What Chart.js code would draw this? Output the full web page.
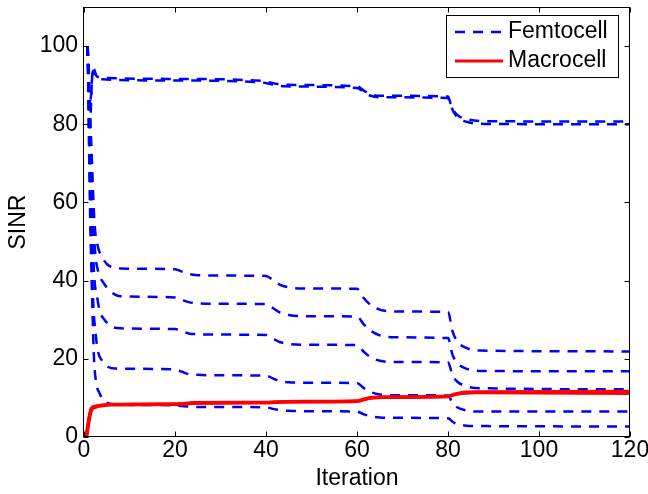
<!DOCTYPE html>
<html><head><meta charset="utf-8">
<script src="https://cdn.jsdelivr.net/npm/chart.js@4.4.1/dist/chart.umd.min.js"></script>
<style>html,body{margin:0;padding:0;background:#fff;}canvas{display:block;}</style>
</head><body>
<canvas id="c" width="648" height="494"></canvas>
<script>
const xTicks = [0, 20, 40, 60, 80, 100, 120];
const yTicks = [0, 20, 40, 60, 80, 100];
const seriesNames = ['Femtocell', 'Macrocell'];
const xTitle = 'Iteration';
const yTitle = 'SINR';

// Femtocell SINR curves (iteration, SINR)
const femto1 = [[0.8,100],[1.4,86],[2,94.5],[2.8,92.3],[4,91.9],[20,91.6],[39,91.1],[40.5,90.8],[42,90.4],[44,90.1],[60,89.7],[61.5,88.6],[63,87.7],[65,87.3],[80,87.1],[80.6,85.2],[81.3,83.4],[82.5,82],[84.5,81.2],[88,80.8],[120,80.7]];
const femto2 = [[0.8,100],[1.3,80],[1.9,93.6],[2.8,92],[4,91.5],[20,91.2],[39,90.7],[40.5,90.4],[42,90.0],[44,89.7],[60,89.3],[61.5,88.2],[63,87.3],[65,86.9],[80,86.7],[80.6,84.8],[81.3,83],[82.5,81.4],[84.5,80.5],[88,80.1],[120,80.0]];
const femto3 = [[0.8,100],[1.6,75],[2.3,55],[3,49],[4,46],[5,44.3],[6,43.5],[8,43.1],[20,42.9],[21.5,42.3],[23,41.7],[25,41.4],[28,41.3],[40,41.2],[41.5,40.2],[43,39.0],[45,38.3],[48,38.0],[60,37.9],[61.5,35.5],[63,33.8],[65,32.6],[68,32.1],[80,32.0],[81,27.0],[82,24.5],[84,22.8],[87,22.1],[120,21.9]];
const femto4 = [[0.8,100],[1.6,68],[2.4,48],[3.2,42],[4.2,39.6],[5.5,37.6],[6.7,36.5],[8,36],[20,35.7],[21.5,35.1],[23,34.5],[25,34.2],[28,34.1],[40,34.0],[41.5,33.0],[43,31.9],[45,31.2],[48,30.9],[60,30.8],[61.5,28.8],[63,27.2],[65,26.0],[68,25.5],[80,25.3],[81,21.0],[82,19.0],[84,17.5],[87,16.9],[120,16.8]];
const femto5 = [[0.8,100],[1.5,65],[2.2,42],[3,35],[3.4,32.4],[4.5,30],[6,28.3],[8,27.8],[20,27.6],[21.5,27.1],[23,26.5],[25,26.3],[28,26.2],[40,26.1],[41.5,25.2],[43,24.3],[45,23.8],[48,23.6],[60,23.5],[61.5,21.8],[63,20.4],[65,19.5],[68,19.2],[80,19.1],[81,15.8],[82,14.2],[84,13.0],[87,12.5],[120,12.2]];
const femto6 = [[0.8,100],[1.4,60],[2,35],[2.6,26],[3,22.2],[4,19.5],[5.3,17.9],[7,17.5],[20,17.3],[21.5,16.7],[23,16.1],[25,15.9],[28,15.8],[40,15.7],[41.5,15.0],[43,14.3],[45,14.0],[48,13.9],[60,13.8],[61.5,12.5],[63,11.5],[65,10.9],[68,10.7],[80,10.6],[81,8.7],[82,7.6],[84,6.8],[87,6.5],[120,6.5]];
const femto7 = [[0.8,100],[1.3,60],[1.8,35],[2.2,20],[2.7,13.8],[3.5,11],[4.2,9.4],[5.5,8.6],[7,8.3],[20,8.1],[21.5,7.9],[23,7.8],[25,7.7],[28,7.7],[40,7.6],[41.5,7.2],[43,6.9],[45,6.7],[48,6.6],[60,6.5],[61.5,5.8],[63,5.3],[65,5.0],[68,4.9],[80,4.8],[81,3.9],[82,3.3],[84,2.9],[87,2.8],[120,2.7]];

// Macrocell SINR curves
const macro1 = [[0.5,0],[1.6,7.4],[2.5,7.9],[4,8.2],[6,8.4],[20,8.5],[22,8.6],[24,8.8],[40,8.9],[42,9.0],[44,9.1],[60,9.3],[61.5,9.7],[63,10.1],[66,10.3],[80,10.5],[81.5,11.0],[83,11.4],[86,11.6],[120,11.7]];
const macro2 = [[0.6,0],[1.6,6.6],[2.5,7.6],[4,8.0],[6,8.2],[20,8.3],[22,8.4],[24,8.6],[40,8.7],[42,8.8],[44,8.9],[60,9.1],[61.5,9.5],[63,9.9],[66,10.1],[80,10.3],[81.5,10.8],[83,11.1],[86,11.3],[120,11.4]];
const macro3 = [[0.4,0],[1.5,7.0],[2.5,7.7],[4,8.1],[6,8.3],[20,8.4],[22,8.5],[24,8.7],[40,8.8],[42,8.9],[44,9.0],[60,9.2],[61.5,9.6],[63,10.0],[66,10.2],[80,10.4],[81.5,10.9],[83,11.2],[86,11.4],[120,11.1]];

const FEMTO_COLOR = '#0000ff';
const MACRO_COLOR = '#ff0000';
const DASH = [10, 8];
const FONT = "'Liberation Sans', Arial, Helvetica, sans-serif";
const FS = 23;

const toPts = a => a.map(p => ({x: p[0], y: p[1]}));
const femtoSets = [femto1, femto2, femto3, femto4, femto5, femto6, femto7].map(a => ({
  label: seriesNames[0], data: toPts(a), borderColor: FEMTO_COLOR, borderWidth: 2.5,
  borderDash: DASH, pointRadius: 0, fill: false, cubicInterpolationMode: 'monotone', order: 2
}));
const macroSets = [macro1, macro2, macro3].map(a => ({
  label: seriesNames[1], data: toPts(a), borderColor: MACRO_COLOR, borderWidth: 3,
  pointRadius: 0, fill: false, cubicInterpolationMode: 'monotone', order: 1
}));

const framePlugin = {
  id: 'frame',
  afterDatasetsDraw(chart) {
    const ctx = chart.ctx, a = chart.chartArea;
    const xs = chart.scales.x, ys = chart.scales.y;
    ctx.save();
    ctx.strokeStyle = '#000'; ctx.lineWidth = 1; ctx.setLineDash([]);
    const L = Math.round(a.left) + 0.5, R = Math.round(a.right) - 0.5;
    const T = Math.round(a.top) + 0.5, B = Math.round(a.bottom) - 0.5;
    ctx.strokeRect(L - 1, T, R - L + 1, B - T);
    const tl = 5;
    ctx.beginPath();
    xs.ticks.forEach(t => {
      const px = Math.round(xs.getPixelForValue(t.value)) + 0.5;
      ctx.moveTo(px, B); ctx.lineTo(px, B - tl);
      ctx.moveTo(px, T); ctx.lineTo(px, T + tl);
    });
    ys.ticks.forEach(t => {
      const py = Math.round(ys.getPixelForValue(t.value)) + 0.5;
      ctx.moveTo(L - 1, py); ctx.lineTo(L - 1 + tl, py);
      ctx.moveTo(R, py); ctx.lineTo(R - tl, py);
    });
    ctx.stroke();
    // legend
    const bx = 446.5, by = 15.5, bw = 172, bh = 62;
    ctx.fillStyle = '#fff';
    ctx.fillRect(bx, by, bw, bh);
    ctx.strokeRect(bx, by, bw, bh);
    const rows = [
      {name: seriesNames[0], color: FEMTO_COLOR, dash: DASH, w: 2.5, y: 32},
      {name: seriesNames[1], color: MACRO_COLOR, dash: [], w: 3, y: 61}
    ];
    rows.forEach(r => {
      ctx.strokeStyle = r.color; ctx.lineWidth = r.w; ctx.setLineDash(r.dash);
      ctx.beginPath(); ctx.moveTo(455, r.y); ctx.lineTo(503, r.y); ctx.stroke();
      ctx.setLineDash([]);
      ctx.fillStyle = '#000'; ctx.font = FS + 'px ' + FONT;
      ctx.textBaseline = 'middle'; ctx.textAlign = 'left';
      ctx.fillText(r.name, 508, r.y);
    });
    ctx.restore();
  }
};

new Chart(document.getElementById('c'), {
  type: 'line',
  data: { datasets: [...macroSets, ...femtoSets] },
  options: {
    responsive: false, animation: false, devicePixelRatio: 1,
    layout: { padding: { top: 7, right: 18, left: 0, bottom: 0 } },
    plugins: { legend: { display: false }, tooltip: { enabled: false } },
    scales: {
      x: {
        type: 'linear', min: 0, max: 120,
        grid: { display: false, drawTicks: false },
        border: { display: false },
        ticks: { color: '#000', font: { family: FONT, size: FS }, padding: 0, maxRotation: 0 },
        afterBuildTicks: s => { s.ticks = xTicks.map(v => ({value: v})); },
        afterFit: s => { s.height = 57; s.paddingLeft = 0; s.paddingRight = 0; },
        title: { display: true, text: xTitle, color: '#000', font: { family: FONT, size: FS }, padding: { top: 0, bottom: 2 } }
      },
      y: {
        type: 'linear', min: 0, max: 110,
        grid: { display: false, drawTicks: false },
        border: { display: false },
        ticks: { color: '#000', font: { family: FONT, size: FS }, padding: 6 },
        afterBuildTicks: s => { s.ticks = yTicks.map(v => ({value: v})); },
        afterFit: s => { s.width = 84; s.paddingTop = 0; s.paddingBottom = 0; },
        title: { display: true, text: yTitle, color: '#000', font: { family: FONT, size: FS }, padding: { top: 5, bottom: 0 } }
      }
    }
  },
  plugins: [framePlugin]
});
</script>
</body></html>
